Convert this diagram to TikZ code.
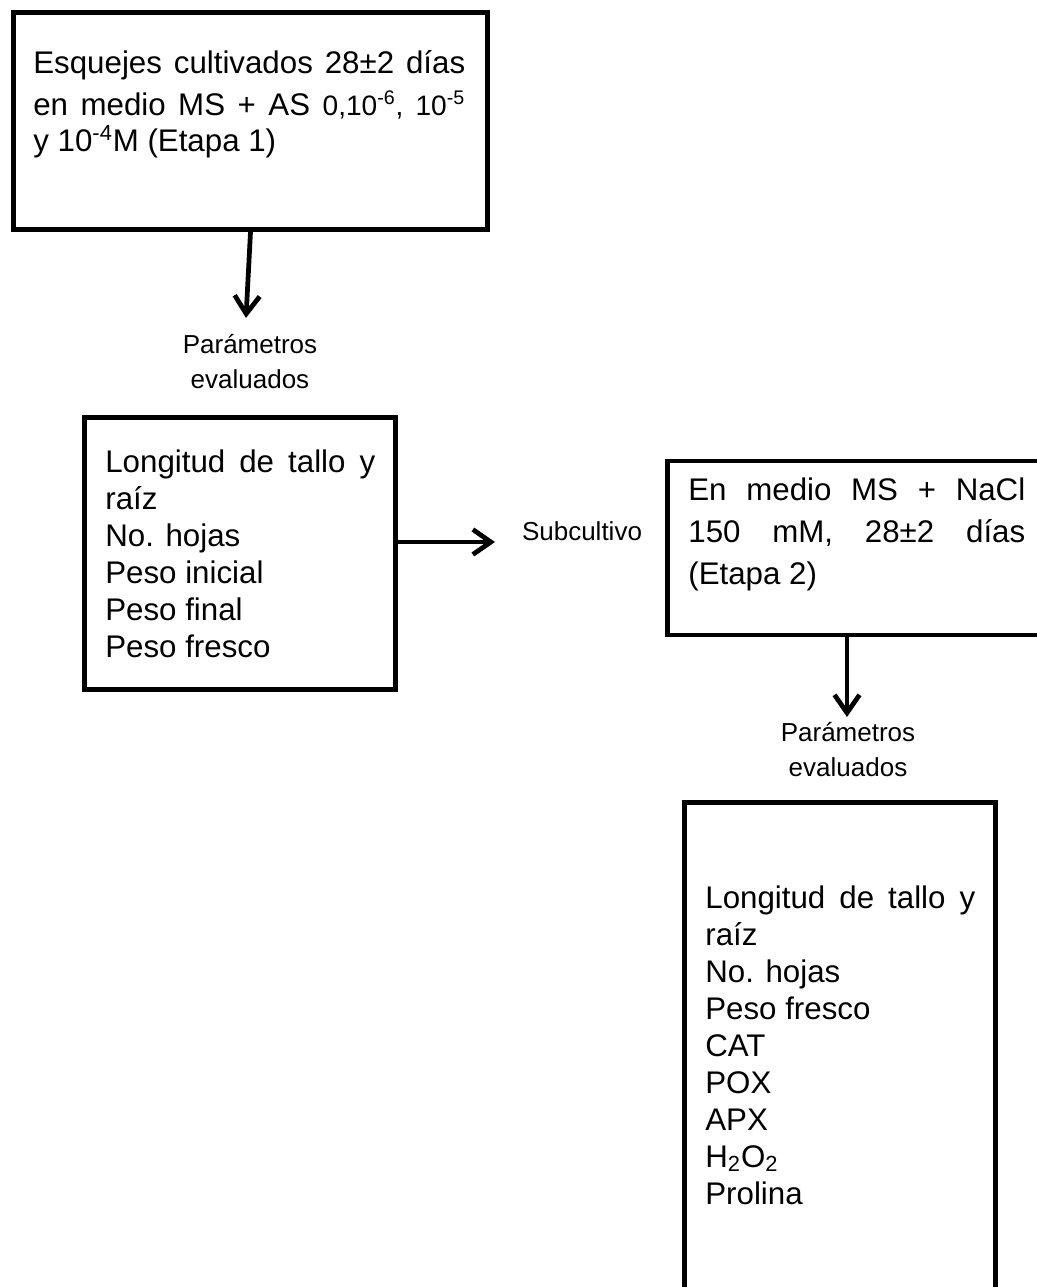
\documentclass[tikz,border=0pt]{standalone}
\usepackage{fontspec}
\setmainfont{Liberation Sans}
\usetikzlibrary{positioning, arrows.meta}

\newcommand{\boxfont}{\fontsize{17.8}{21}\selectfont}
\newcommand{\smallnum}{\fontsize{16}{21}\selectfont}
\newcommand{\labelfont}{\fontsize{14.8}{19.8}\selectfont}
\newcommand{\fillline}[2]{\makebox[#1][s]{#2}}

\tikzset{Box style/.style={draw=black, line width=2.8pt, rectangle, inner sep=0pt}}
\tikzset{Text style/.style={font=\boxfont, align=left, inner sep=0pt, anchor=base west}}
\tikzset{Label style/.style={font=\labelfont, align=center, inner sep=0pt, anchor=base}}
\tikzset{
	>={Straight Barb[length=3.6mm, width=5mm]}, % punta abierta
	Arrow style/.style={->, line width=2.7pt},
}

\begin{document}
\begin{tikzpicture}[x=0.02cm, y=-0.02cm]
        \useasboundingbox (0,0) rectangle (1037,1287);

        % cajas
        \node[Box style, minimum width=9.48cm, minimum height=4.34cm] (etapa1) at (250.5,121) {};
        \node[Box style, minimum width=6.22cm, minimum height=5.44cm] (param1) at (240,553.5) {};
        \node[Box style, minimum width=7.7cm, minimum height=3.48cm] (etapa2) at (859.5,548) {};
        \node[Box style, minimum width=6.22cm, minimum height=10.15cm] (param2) at (840,1056) {};

        % textos (anclados en la linea base de la ultima linea)
        \node[Text style] (etapa1 text) at (33,152)
              {\fillline{8.64cm}{Esquejes cultivados 28±2 días}\\[0.1cm]
               \fillline{8.64cm}{en medio MS + AS {\smallnum 0,10\textsuperscript{-6}, 10\textsuperscript{-5}}}\\
               y 10\textsuperscript{-4}M (Etapa 1)};
        \node[Text style] (param1 text) at (105,657)
              {\fillline{5.4cm}{Longitud de tallo y}\\
               raíz\\ No. hojas\\ Peso inicial\\ Peso final\\ Peso fresco};
        \node[Text style] (etapa2 text) at (688,584)
              {\fillline{6.74cm}{En medio MS + NaCl}\\[0.1cm]
               \fillline{6.74cm}{150 mM, 28±2 días}\\[0.1cm]
               (Etapa 2)};
        \node[Text style] (param2 text) at (705,1204)
              {\fillline{5.4cm}{Longitud de tallo y}\\
               raíz\\ No. hojas\\ Peso fresco\\ CAT\\ POX\\ APX\\
               H\textsubscript{2}O\textsubscript{2}\\ Prolina};

        % etiquetas
        \node[Label style] (eval1) at (250,388) {Parámetros\\evaluados};
        \node[Label style] (subcult) at (582,540) {Subcultivo};
        \node[Label style] (eval2) at (848,776) {Parámetros\\evaluados};

        % flechas
        \coordinate (tip1) at (246,318);
        \coordinate (tip2) at (495,542);
        \coordinate (tip3) at (847,717);
        \draw[Arrow style] (etapa1.south) -- (tip1);
        \draw[Arrow style] (param1.east |- tip2) -- (tip2);
        \draw[Arrow style] (tip3 |- etapa2.south) -- (tip3);
\end{tikzpicture}
\end{document}
